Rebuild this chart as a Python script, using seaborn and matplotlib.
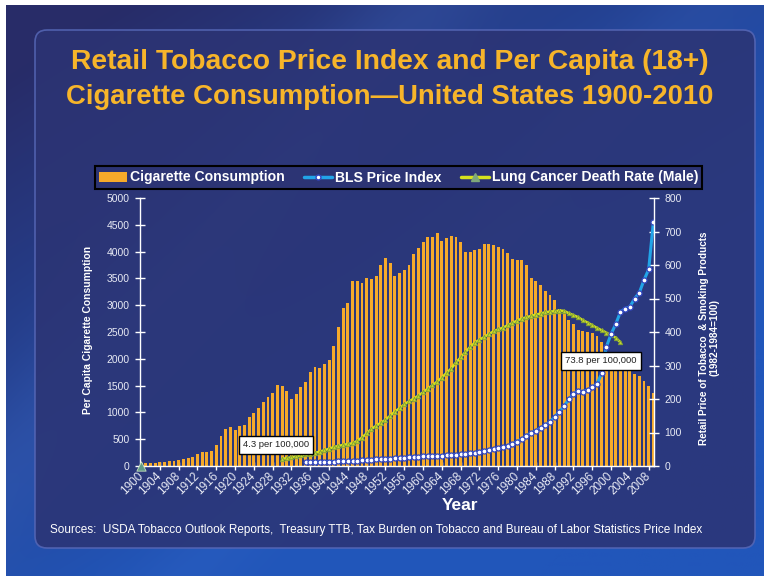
import numpy as np
import matplotlib
matplotlib.use("Agg")
import matplotlib.pyplot as plt
from matplotlib.patches import FancyBboxPatch, Patch
from matplotlib.lines import Line2D
import seaborn as sns

# ---- data -------------------------------------------------------------
years = list(range(1900, 2010))
consumption = [54, 53, 60, 64, 66, 70, 86, 99, 105, 125,
               151, 173, 223, 260, 267, 285, 395, 551, 697, 727,
               665, 742, 770, 911, 982, 1085, 1191, 1279, 1366, 1504,
               1485, 1399, 1245, 1334, 1483, 1564, 1754, 1847, 1830, 1900,
               1976, 2236, 2585, 2956, 3039, 3449, 3446, 3416, 3505, 3480,
               3552, 3744, 3886, 3778, 3546, 3597, 3650, 3755, 3953, 4073,
               4171, 4266, 4266, 4345, 4194, 4258, 4287, 4280, 4186, 3993,
               3985, 4037, 4043, 4148, 4141, 4123, 4092, 4051, 3967, 3861,
               3851, 3840, 3753, 3502, 3446, 3370, 3274, 3197, 3096, 2926,
               2827, 2720, 2641, 2538, 2524, 2505, 2482, 2423, 2320, 2136,
               2092, 2051, 2009, 1890, 1814, 1710, 1680, 1580, 1490, 1360]

price_years = list(range(1935, 2010))
price_index = [11, 11, 12, 12, 13,
               13, 13, 14, 14, 15,
               15, 16, 17, 18, 19,
               20, 21, 22, 22, 23,
               24, 25, 26, 27, 28,
               29, 30, 30, 31, 31,
               32, 33, 34, 35, 37,
               38, 40, 42, 45, 48,
               51, 53, 56, 60, 66,
               73, 80, 90, 99, 105,
               114, 122, 132, 147, 162,
               179, 199, 215, 225, 222,
               227, 235, 245, 277, 356,
               394, 424, 460, 470, 475,
               500, 517, 555, 587, 729]

lung_years = [1900] + list(range(1930, 2003))
lung_rate = [0.0,
             4.3, 4.7, 5.2, 5.8, 6.3, 6.9, 7.3, 7.8, 8.6, 9.4,
             10.3, 11.3, 12.0, 12.6, 13.1, 13.6, 15.0, 17.0, 19.5, 22.0,
             24.0, 25.8, 27.6, 30.0, 32.5, 34.5, 36.8, 38.6, 40.2, 42.0,
             44.0, 46.2, 48.2, 50.4, 52.8, 55.6, 58.2, 61.8, 64.8, 68.0,
             71.0, 73.6, 75.4, 77.0, 78.8, 80.4, 81.6, 82.6, 84.0, 85.4,
             86.8, 88.0, 88.8, 89.6, 90.4, 91.0, 91.8, 92.2, 92.4, 92.8,
             92.6, 91.2, 90.0, 88.8, 87.0, 85.6, 84.0, 82.4, 81.0, 79.6,
             78.0, 76.6, 73.8]

xtick_years = list(range(1900, 2009, 4))
left_ticks = list(range(0, 5001, 500))
right_ticks = list(range(0, 801, 100))

# ---- style ------------------------------------------------------------
sns.set_theme(style="white")
plt.rcParams["font.family"] = ["Liberation Sans", "DejaVu Sans"]

BAR = "#f6aa2a"
BLUE = "#22a4e8"
BLUE_EDGE = "#3346c0"
GREEN = "#d6e21e"
GREEN_MK = "#7c9e36"
PANEL = "#2c3474"
TEXT = "#e8eaf4"
GOLD = "#f7b52a"

W, H = 764, 576
fig = plt.figure(figsize=(W / 100, H / 100), dpi=100)
fig.patch.set_facecolor("white")

# ---- slide background -------------------------------------------------
bg = fig.add_axes([0, 0, 1, 1])
bg.set_xlim(0, W)
bg.set_ylim(H, 0)
bg.axis("off")
yy, xx = np.mgrid[0:H, 0:W].astype(float)
dark = np.array([40, 44, 104]) / 255
bright = np.array([33, 86, 186]) / 255
light = np.array([72, 114, 204]) / 255
t = np.clip(-0.12 + 0.8 * xx / W + 0.95 * yy / H, 0, 1)
img = dark[None, None, :] * (1 - t[..., None]) + bright[None, None, :] * t[..., None]
u = xx + 0.9 * yy
band = 0.22 * np.exp(-((u - 420) / 80) ** 2) + 0.12 * np.exp(-((u - 700) / 60) ** 2)
img = img * (1 - band[..., None]) + light[None, None, :] * band[..., None]
bg.imshow(img, extent=(6, W, H, 5), aspect="auto", zorder=0, interpolation="bilinear")
panel = FancyBboxPatch((35, 30), 720, 518,
                       boxstyle="round,pad=0,rounding_size=12",
                       fc=PANEL, ec="#5667b6", lw=1.2, alpha=0.86, zorder=1)
bg.add_patch(panel)

# ---- main axes --------------------------------------------------------
ax = fig.add_axes([140 / W, 1 - 466 / H, 514 / W, 268 / H])
ax.patch.set_alpha(0)
sns.barplot(x=years, y=consumption, native_scale=True, color=BAR,
            saturation=1, width=0.62, errorbar=None, linewidth=0, ax=ax)
ax.set_xlim(1899.77, 2009.13)
ax.set_ylim(0, 5000)
ax.set_yticks(left_ticks)
ax.set_yticklabels([str(v) for v in left_ticks])
ax.set_xticks(xtick_years)
ax.set_xticklabels([str(v) for v in xtick_years], rotation=45,
                   ha="right", va="center", rotation_mode="anchor")
ax.set_xlabel("")
ax.set_ylabel("")
for side in ("top", "right"):
    ax.spines[side].set_visible(False)
for side in ("left", "bottom"):
    ax.spines[side].set_color("white")
    ax.spines[side].set_linewidth(1)
ax.tick_params(axis="y", colors="white", labelcolor=TEXT, labelsize=7.5,
               direction="inout", length=7, width=1, pad=4, left=True)
ax.tick_params(axis="x", colors="white", labelcolor=TEXT, labelsize=8.5,
               direction="inout", length=6, width=1, pad=3, bottom=True)

# lung cancer rate on its own hidden scale
ax3 = ax.twinx()
ax3.patch.set_alpha(0)
sns.lineplot(x=lung_years[1:], y=lung_rate[1:], ax=ax3, color=GREEN, lw=1.8,
             marker="^", markersize=3.2, markerfacecolor="#c4d32a",
             markeredgecolor=GREEN_MK, markeredgewidth=0.6, legend=False)
sns.scatterplot(x=lung_years[:1], y=lung_rate[:1], ax=ax3, marker="^",
                s=45, color="#5f9a86", edgecolor="#c8e0c0", linewidth=0.6,
                legend=False, clip_on=False, zorder=5)
ax3.set_ylim(0, 160)
ax3.set_xlim(1899.77, 2009.13)
ax3.axis("off")

# price index on the right axis
ax2 = ax.twinx()
ax2.patch.set_alpha(0)
sns.lineplot(x=price_years, y=price_index, ax=ax2, color=BLUE, lw=2.2,
             marker="o", markersize=3.6, markerfacecolor="white",
             markeredgecolor=BLUE_EDGE, markeredgewidth=0.9, legend=False)
ax2.set_ylim(0, 800)
ax2.set_xlim(1899.77, 2009.13)
ax2.set_yticks(right_ticks)
ax2.set_yticklabels([str(v) for v in right_ticks])
ax2.set_ylabel("")
ax2.set_xlabel("")
for side in ("top", "left", "bottom"):
    ax2.spines[side].set_visible(False)
ax2.spines["right"].set_color("white")
ax2.spines["right"].set_linewidth(1)
ax2.tick_params(axis="y", colors="white", labelcolor=TEXT, labelsize=7.5,
                direction="inout", length=7, width=1, pad=4, right=True)

# value call-outs for the lung cancer series
box = dict(boxstyle="square,pad=0.45", fc="white", ec="black", lw=1)
ax2.text(0.2646, 0.0784, f"{lung_rate[1]} per 100,000", transform=ax2.transAxes,
         ha="center", va="center", fontsize=6.8, color="#222222", bbox=box, zorder=10)
ax2.text(0.8969, 0.3918, f"{lung_rate[-1]} per 100,000", transform=ax2.transAxes,
         ha="center", va="center", fontsize=6.8, color="#222222", bbox=box, zorder=10)

# ---- text -------------------------------------------------------------
fig.text(0.51, 1 - 62 / H, "Retail Tobacco Price Index and Per Capita (18+)",
         ha="center", va="center", color=GOLD, fontsize=20.3, weight="bold")
fig.text(0.51, 1 - 97 / H, "Cigarette Consumption\u2014United States 1900-2010",
         ha="center", va="center", color=GOLD, fontsize=19.8, weight="bold")

fig.text(88 / W, 1 - 330 / H, "Per Capita Cigarette Consumption", rotation=90,
         ha="center", va="center", color="white", fontsize=7.4, weight="bold")
fig.text(709 / W, 1 - 338 / H,
         "Retail Price of Tobacco  & Smoking Products\n(1982-1984=100)",
         rotation=90, ha="center", va="center", multialignment="center",
         color="white", fontsize=7.2, weight="bold", linespacing=1.1)
fig.text(460 / W, 1 - 506 / H, "Year", ha="center", va="center",
         color="white", fontsize=12.5, weight="bold")
fig.text(50 / W, 1 - 530 / H,
         "Sources:  USDA Tobacco Outlook Reports,  Treasury TTB, Tax Burden on "
         "Tobacco and Bureau of Labor Statistics Price Index",
         ha="left", va="center", color="white", fontsize=8.5)

# ---- legend -----------------------------------------------------------
handles = [
    Patch(fc=BAR, ec="none"),
    Line2D([], [], color=BLUE, lw=2.5, marker="o", markersize=3.5,
           markerfacecolor="white", markeredgecolor=BLUE_EDGE),
    Line2D([], [], color=GREEN, lw=2.5, marker="^", markersize=6,
           markerfacecolor="#7fa87a", markeredgecolor="#7fa87a"),
]
labels = ["Cigarette Consumption", "BLS Price Index", "Lung Cancer Death Rate (Male)"]
leg = fig.legend(handles, labels, loc="center",
                 bbox_to_anchor=(398.5 / W, 1 - 177.5 / H), ncol=3,
                 frameon=True, fancybox=False, edgecolor="black",
                 facecolor=PANEL, framealpha=1,
                 prop=dict(weight="bold", size=10.1), labelcolor="white",
                 handlelength=2.0, handleheight=0.7, handletextpad=0.2,
                 columnspacing=1.4, borderpad=0.3)
leg.get_frame().set_linewidth(1.5)

fig.savefig("out.png", dpi=100, facecolor=fig.get_facecolor())
